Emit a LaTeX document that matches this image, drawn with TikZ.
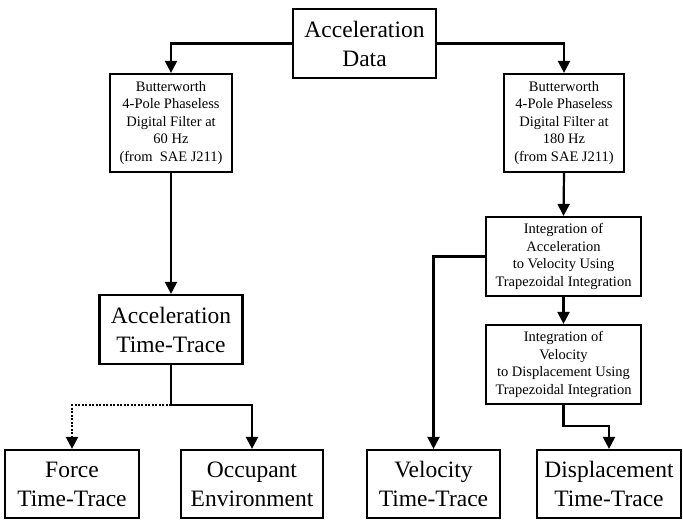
\documentclass[tikz,border=0pt]{standalone}
\usepackage{fontspec}
\setmainfont{Liberation Serif}
\usetikzlibrary{arrows.meta}
\begin{document}
\begin{tikzpicture}[x=1pt, y=-1pt,
  box/.style={draw, line width=2.2pt, align=center, inner sep=0pt},
  big/.style={box, font=\fontsize{23.5}{29}\selectfont},
  small/.style={box, font=\fontsize{14.5}{17.5}\selectfont},
  arr/.style={line width=2.2pt, -{Triangle[length=12pt,width=12pt]}}]
\useasboundingbox (0,0) rectangle (683,520);
\node[big, minimum width=143pt, minimum height=69pt] (data) at (364.5,43.5) {Acceleration\\Data};
\node[small, minimum width=122pt, minimum height=98pt] (filtL) at (171,123) {Butterworth\\4-Pole Phaseless\\Digital Filter at\\60 Hz\\(from\ \ SAE J211)};
\node[small, minimum width=120pt, minimum height=98pt] (filtR) at (564,123) {Butterworth\\4-Pole Phaseless\\Digital Filter at\\180 Hz\\(from SAE J211)};
\node[small, minimum width=155pt, minimum height=79pt] (intA) at (563.5,256.5) {Integration of\\Acceleration\\to Velocity Using\\Trapezoidal Integration};
\node[small, minimum width=155pt, minimum height=79pt] (intB) at (563.5,364.5) {Integration of\\Velocity\\to Displacement Using\\Trapezoidal Integration};
\node[big, minimum width=143pt, minimum height=69pt] (accTT) at (171,329.5) {Acceleration\\Time-Trace};
\node[big, minimum width=134pt, minimum height=68pt] (force) at (72,484) {Force\\Time-Trace};
\node[big, minimum width=142pt, minimum height=68pt] (occ) at (252,484) {Occupant\\Environment};
\node[big, minimum width=133pt, minimum height=68pt] (vel) at (433.5,484) {Velocity\\Time-Trace};
\node[big, minimum width=144pt, minimum height=68pt] (disp) at (609,484) {Displacement\\Time-Trace};
\coordinate (split) at (171,405);
% connectors
\draw[arr] (data.west) -| (filtL.north);
\draw[arr] (data.east) -| (filtR.north);
\draw[arr] (filtL.south) -- (accTT.north);
\draw[arr] (filtR.south) -- (intA.north);
\draw[arr] (intA.south) -- (intB.north);
\draw[arr] (intA.west) -| (vel.north);
\draw[arr] (intB.south) -- ++(0,21) -| (disp.north);
\draw[arr] (accTT.south) -- (split) -| (occ.north);
\draw[arr, dash pattern=on 2pt off 1.5pt] (split) -| (force.north);
\end{tikzpicture}
\end{document}
